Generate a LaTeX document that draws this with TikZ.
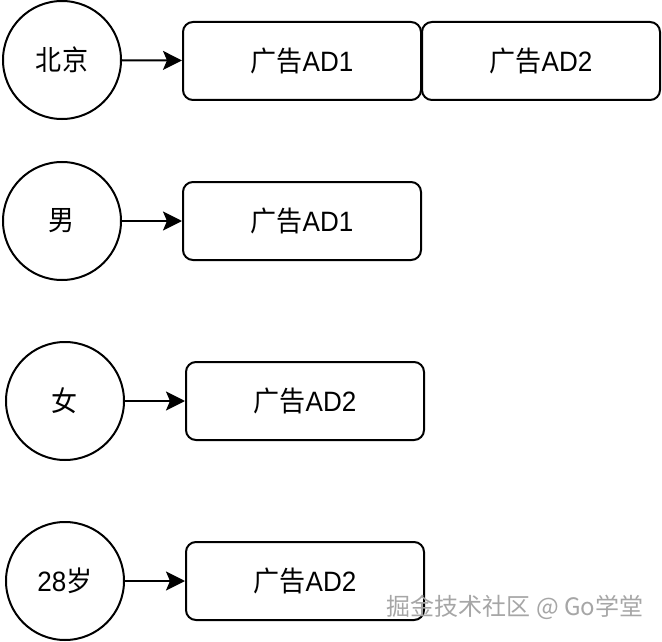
\documentclass[tikz,border=0pt]{standalone}
\usepackage{fontspec}
\usepackage{graphicx}
\setmainfont{Liberation Sans}
\newfontfamily\cjk{Noto Sans CJK SC}
\usetikzlibrary{arrows.meta}
\newcommand\lbl[1]{\scalebox{0.93}[1]{#1}}
\begin{document}
\begin{tikzpicture}[x=1pt,y=-1pt,
  attr/.style={draw,circle,line width=2pt,minimum size=118pt,inner sep=0pt,font=\fontsize{28}{32}\selectfont},
  ad/.style={draw,rounded corners=10pt,line width=2pt,minimum width=238pt,minimum height=78pt,inner sep=0pt,font=\fontsize{28}{32}\selectfont},
  link/.style={line width=2pt,-{Stealth[length=19pt,width=19pt,inset=4pt]}}]
\useasboundingbox (0,0) rectangle (662,642);
% row 1
\node[attr] (bj) at (62,60) {\lbl{\cjk 北京}};
\node[ad] (a1) at (302,61) {\lbl{{\cjk 广告}AD1}};
\node[ad] (a2) at (541,61) {\lbl{{\cjk 广告}AD2}};
% row 2
\node[attr] (nan) at (62,221) {\lbl{\cjk 男}};
\node[ad] (b1) at (302,221) {\lbl{{\cjk 广告}AD1}};
% row 3
\node[attr] (nv) at (65,401) {\lbl{\cjk 女}};
\node[ad] (c1) at (305,401) {\lbl{{\cjk 广告}AD2}};
% row 4
\node[attr] (age) at (65,581) {\lbl{28{\cjk 岁}}};
\node[ad] (d1) at (305,581) {\lbl{{\cjk 广告}AD2}};
\draw[link] (bj) -- (a1);
\draw[link] (nan) -- (b1);
\draw[link] (nv) -- (c1);
\draw[link] (age) -- (d1);
% watermark
\node[text=gray!70,font=\cjk\fontsize{24}{28}\selectfont,inner sep=0pt] (wm) at (515,607) {掘金技术社区 @ Go学堂};
\end{tikzpicture}
\end{document}
